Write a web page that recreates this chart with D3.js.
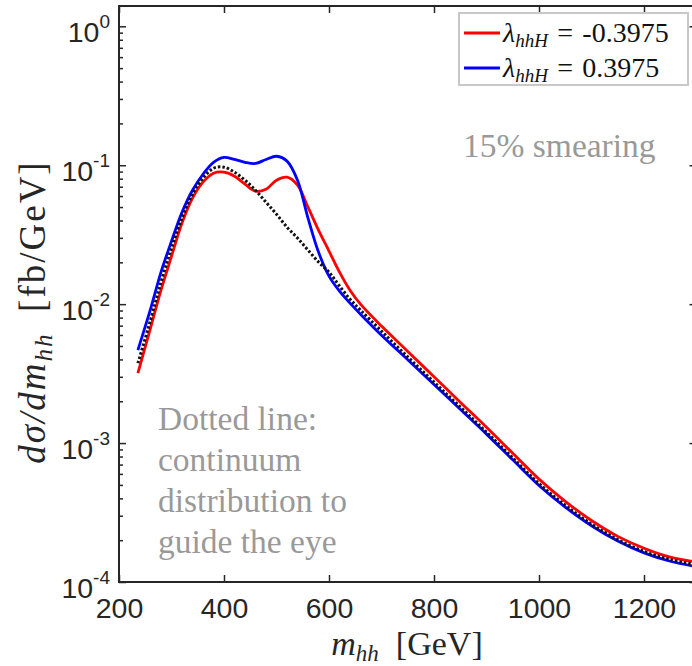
<!DOCTYPE html>
<html>
<head>
<meta charset="utf-8">
<script src="https://cdn.jsdelivr.net/npm/d3@7"></script>
<style>
body { margin: 0; background: #fff; }
svg { display: block; }
.eixo path { display: none; }
.eixo line { stroke: #262626; stroke-width: 1.5; }
.eixo text { font-family: 'Liberation Sans', Arial, sans-serif; font-size: 28.5px; fill: #262626; }
.serif { font-family: 'Liberation Serif', 'Times New Roman', serif; }
.nota { font-family: 'Liberation Serif', serif; fill: #999; font-size: 33.5px; }
</style>
</head>
<body>
<svg id="grafico" width="692" height="666"></svg>
<script>
// m_hh [GeV]
let massa = [236, 260, 280, 300, 320, 340, 360, 380, 400, 420, 440, 460, 480, 500, 520, 540, 560, 580, 600,
    620, 640, 660, 700, 750, 800, 850, 900, 950, 1000, 1050, 1100, 1150, 1200, 1250, 1300];
// lambda_hhH = -0.3975 (vermelho)
let lambdaNeg = [3.19e-3, 6.72e-3, 0.0126, 0.0221, 0.0383, 0.0579, 0.0755, 0.0876, 0.0891, 0.0834, 0.0730, 0.0650,
    0.0672, 0.0780, 0.0820, 0.0718, 0.0499, 0.0341, 0.0241, 0.0170, 0.0126, 0.0100, 6.95e-3, 4.57e-3, 3.00e-3,
    1.97e-3, 1.30e-3, 8.45e-4, 5.50e-4, 3.81e-4, 2.77e-4, 2.13e-4, 1.75e-4, 1.51e-4, 1.39e-4];
// lambda_hhH = 0.3975 (azul)
let lambdaPos = [4.67e-3, 9.20e-3, 0.0170, 0.0284, 0.0459, 0.0661, 0.0861, 0.105, 0.114, 0.110, 0.105, 0.103,
    0.110, 0.116, 0.107, 0.078, 0.0416, 0.0237, 0.0159, 0.0124, 0.01017, 8.47e-3, 5.98e-3, 3.98e-3, 2.64e-3,
    1.75e-3, 1.16e-3, 7.57e-4, 4.95e-4, 3.46e-4, 2.54e-4, 1.97e-4, 1.62e-4, 1.41e-4, 1.29e-4];
// continuo (pontilhado)
let continuo = [3.76e-3, 7.67e-3, 0.0144, 0.0253, 0.0416, 0.0618, 0.0806, 0.0951, 0.0968, 0.0891, 0.0780, 0.0661,
    0.0542, 0.0444, 0.0358, 0.0299, 0.0245, 0.0201, 0.0170, 0.0135, 0.01086, 9.06e-3, 6.40e-3, 4.17e-3, 2.75e-3,
    1.82e-3, 1.20e-3, 7.83e-4, 5.11e-4, 3.57e-4, 2.61e-4, 2.02e-4, 1.66e-4, 1.45e-4, 1.33e-4];

let ticksX = [200, 400, 600, 800, 1000, 1200];
let ticksY = [1e-4, 1e-3, 1e-2, 1e-1, 1];
let expoentes = ['-4', '-3', '-2', '-1', '0'];
let legendas = ['-0.3975', '0.3975'];

let svg = d3.select('#grafico');

let esq = 119, dir = 696.5, topo = 6, base = 582;

let fnx = d3.scaleLinear().domain([200, 1300]).range([esq, dir]);
let fny = d3.scaleLog().domain([1e-4, 1.4]).range([base, topo]);

let menores = fny.ticks().filter(v => !ticksY.includes(v));

// ticks para dentro
svg.append('g').attr('class', 'eixo').attr('transform', `translate(${esq},0)`)
    .call(d3.axisLeft(fny).tickValues(ticksY).tickSize(-7).tickFormat(''));
svg.append('g').attr('class', 'eixo').attr('transform', `translate(${esq},0)`)
    .call(d3.axisLeft(fny).tickValues(menores).tickSize(-4).tickFormat(''));
svg.append('g').attr('class', 'eixo').attr('transform', `translate(${dir},0)`)
    .call(d3.axisRight(fny).tickValues(ticksY).tickSize(-7).tickFormat(''));
svg.append('g').attr('class', 'eixo').attr('transform', `translate(${dir},0)`)
    .call(d3.axisRight(fny).tickValues(menores).tickSize(-4).tickFormat(''));
svg.append('g').attr('class', 'eixo').attr('transform', `translate(0,${base})`)
    .call(d3.axisBottom(fnx).tickValues(ticksX).tickSize(-7).tickPadding(16).tickFormat(d3.format('d')));
svg.append('g').attr('class', 'eixo').attr('transform', `translate(0,${topo})`)
    .call(d3.axisTop(fnx).tickValues(ticksX).tickSize(-7).tickFormat(''));

// rotulos 10^n
let rotY = svg.selectAll('.rotuloY')
    .data(ticksY)
    .join('text')
    .attr('class', 'rotuloY')
    .attr('x', esq - 9)
    .attr('y', d => fny(d) + 16)
    .attr('text-anchor', 'end')
    .style('font-family', "'Liberation Sans', Arial, sans-serif")
    .style('fill', '#262626');
rotY.append('tspan').style('font-size', '28.5px').text('10');
rotY.append('tspan').style('font-size', '19px').attr('dy', -14).text((d, i) => expoentes[i]);

// curvas
let linha = d3.line()
    .x((d, i) => fnx(massa[i]))
    .y(d => fny(d))
    .curve(d3.curveCatmullRom.alpha(0.5));

svg.append('defs').append('clipPath').attr('id', 'area')
    .append('rect').attr('x', esq).attr('y', topo).attr('width', dir - esq).attr('height', base - topo);

let curvas = svg.append('g').attr('clip-path', 'url(#area)');
curvas.append('path').datum(lambdaNeg).attr('d', linha)
    .attr('fill', 'none').attr('stroke', '#ff0000').attr('stroke-width', 2.8);
curvas.append('path').datum(lambdaPos).attr('d', linha)
    .attr('fill', 'none').attr('stroke', '#0000ff').attr('stroke-width', 2.8);
curvas.append('path').datum(continuo).attr('d', linha)
    .attr('fill', 'none').attr('stroke', '#111').attr('stroke-width', 3)
    .attr('stroke-dasharray', '2.5,2');

// moldura
svg.append('path')
    .attr('d', `M${dir},${topo}H${esq}V${base}H${dir}`)
    .attr('fill', 'none').attr('stroke', '#262626').attr('stroke-width', 2);

// titulos dos eixos
let tx = svg.append('text').attr('class', 'serif')
    .attr('x', 407).attr('y', 655).attr('text-anchor', 'middle')
    .style('font-size', '34px').style('fill', '#262626');
tx.append('tspan').style('font-style', 'italic').text('m');
tx.append('tspan').style('font-style', 'italic').style('font-size', '23px').attr('dy', 6).text('hh');
tx.append('tspan').attr('dy', -6).text('\u2002[GeV]');

let ty = svg.append('text').attr('class', 'serif')
    .attr('transform', 'translate(45,312) rotate(-90)').attr('text-anchor', 'middle')
    .style('font-size', '37px').style('letter-spacing', '2px').style('fill', '#262626');
ty.append('tspan').style('font-style', 'italic').text('d\u03c3/dm');
ty.append('tspan').style('font-style', 'italic').style('font-size', '25px').attr('dy', 7).text('hh');
ty.append('tspan').attr('dy', -7).text('\u2002[fb/GeV]');

// legenda
let leg = svg.append('g');
leg.append('rect').attr('x', 459).attr('y', 13).attr('width', 229).attr('height', 72)
    .attr('fill', '#fff').attr('stroke', '#c8c8c8').attr('stroke-width', 2);
let cores = ['#ff0000', '#0000ff'];
legendas.forEach((v, i) => {
    let yy = 33 + i * 35;
    leg.append('line').attr('x1', 464).attr('x2', 500).attr('y1', yy).attr('y2', yy)
        .attr('stroke', cores[i]).attr('stroke-width', 2.8);
    let t = leg.append('text').attr('class', 'serif').attr('x', 503).attr('y', yy + 9)
        .style('font-size', '28px').style('fill', '#111');
    t.append('tspan').style('font-style', 'italic').text('\u03bb');
    t.append('tspan').style('font-style', 'italic').style('font-size', '19px').attr('dy', 5).text('hhH');
    t.append('tspan').attr('dy', -5).text('\u2004=\u2004' + v);
});

// notas
svg.append('text').attr('class', 'nota').attr('x', 463).attr('y', 157).text('15% smearing');
let nota = ['Dotted line:', 'continuum', 'distribution to', 'guide the eye'];
svg.selectAll('.notaL')
    .data(nota)
    .join('text')
    .attr('class', 'nota notaL')
    .attr('x', 158)
    .attr('y', (d, i) => 430 + i * 41)
    .text(d => d);
</script>
</body>
</html>
